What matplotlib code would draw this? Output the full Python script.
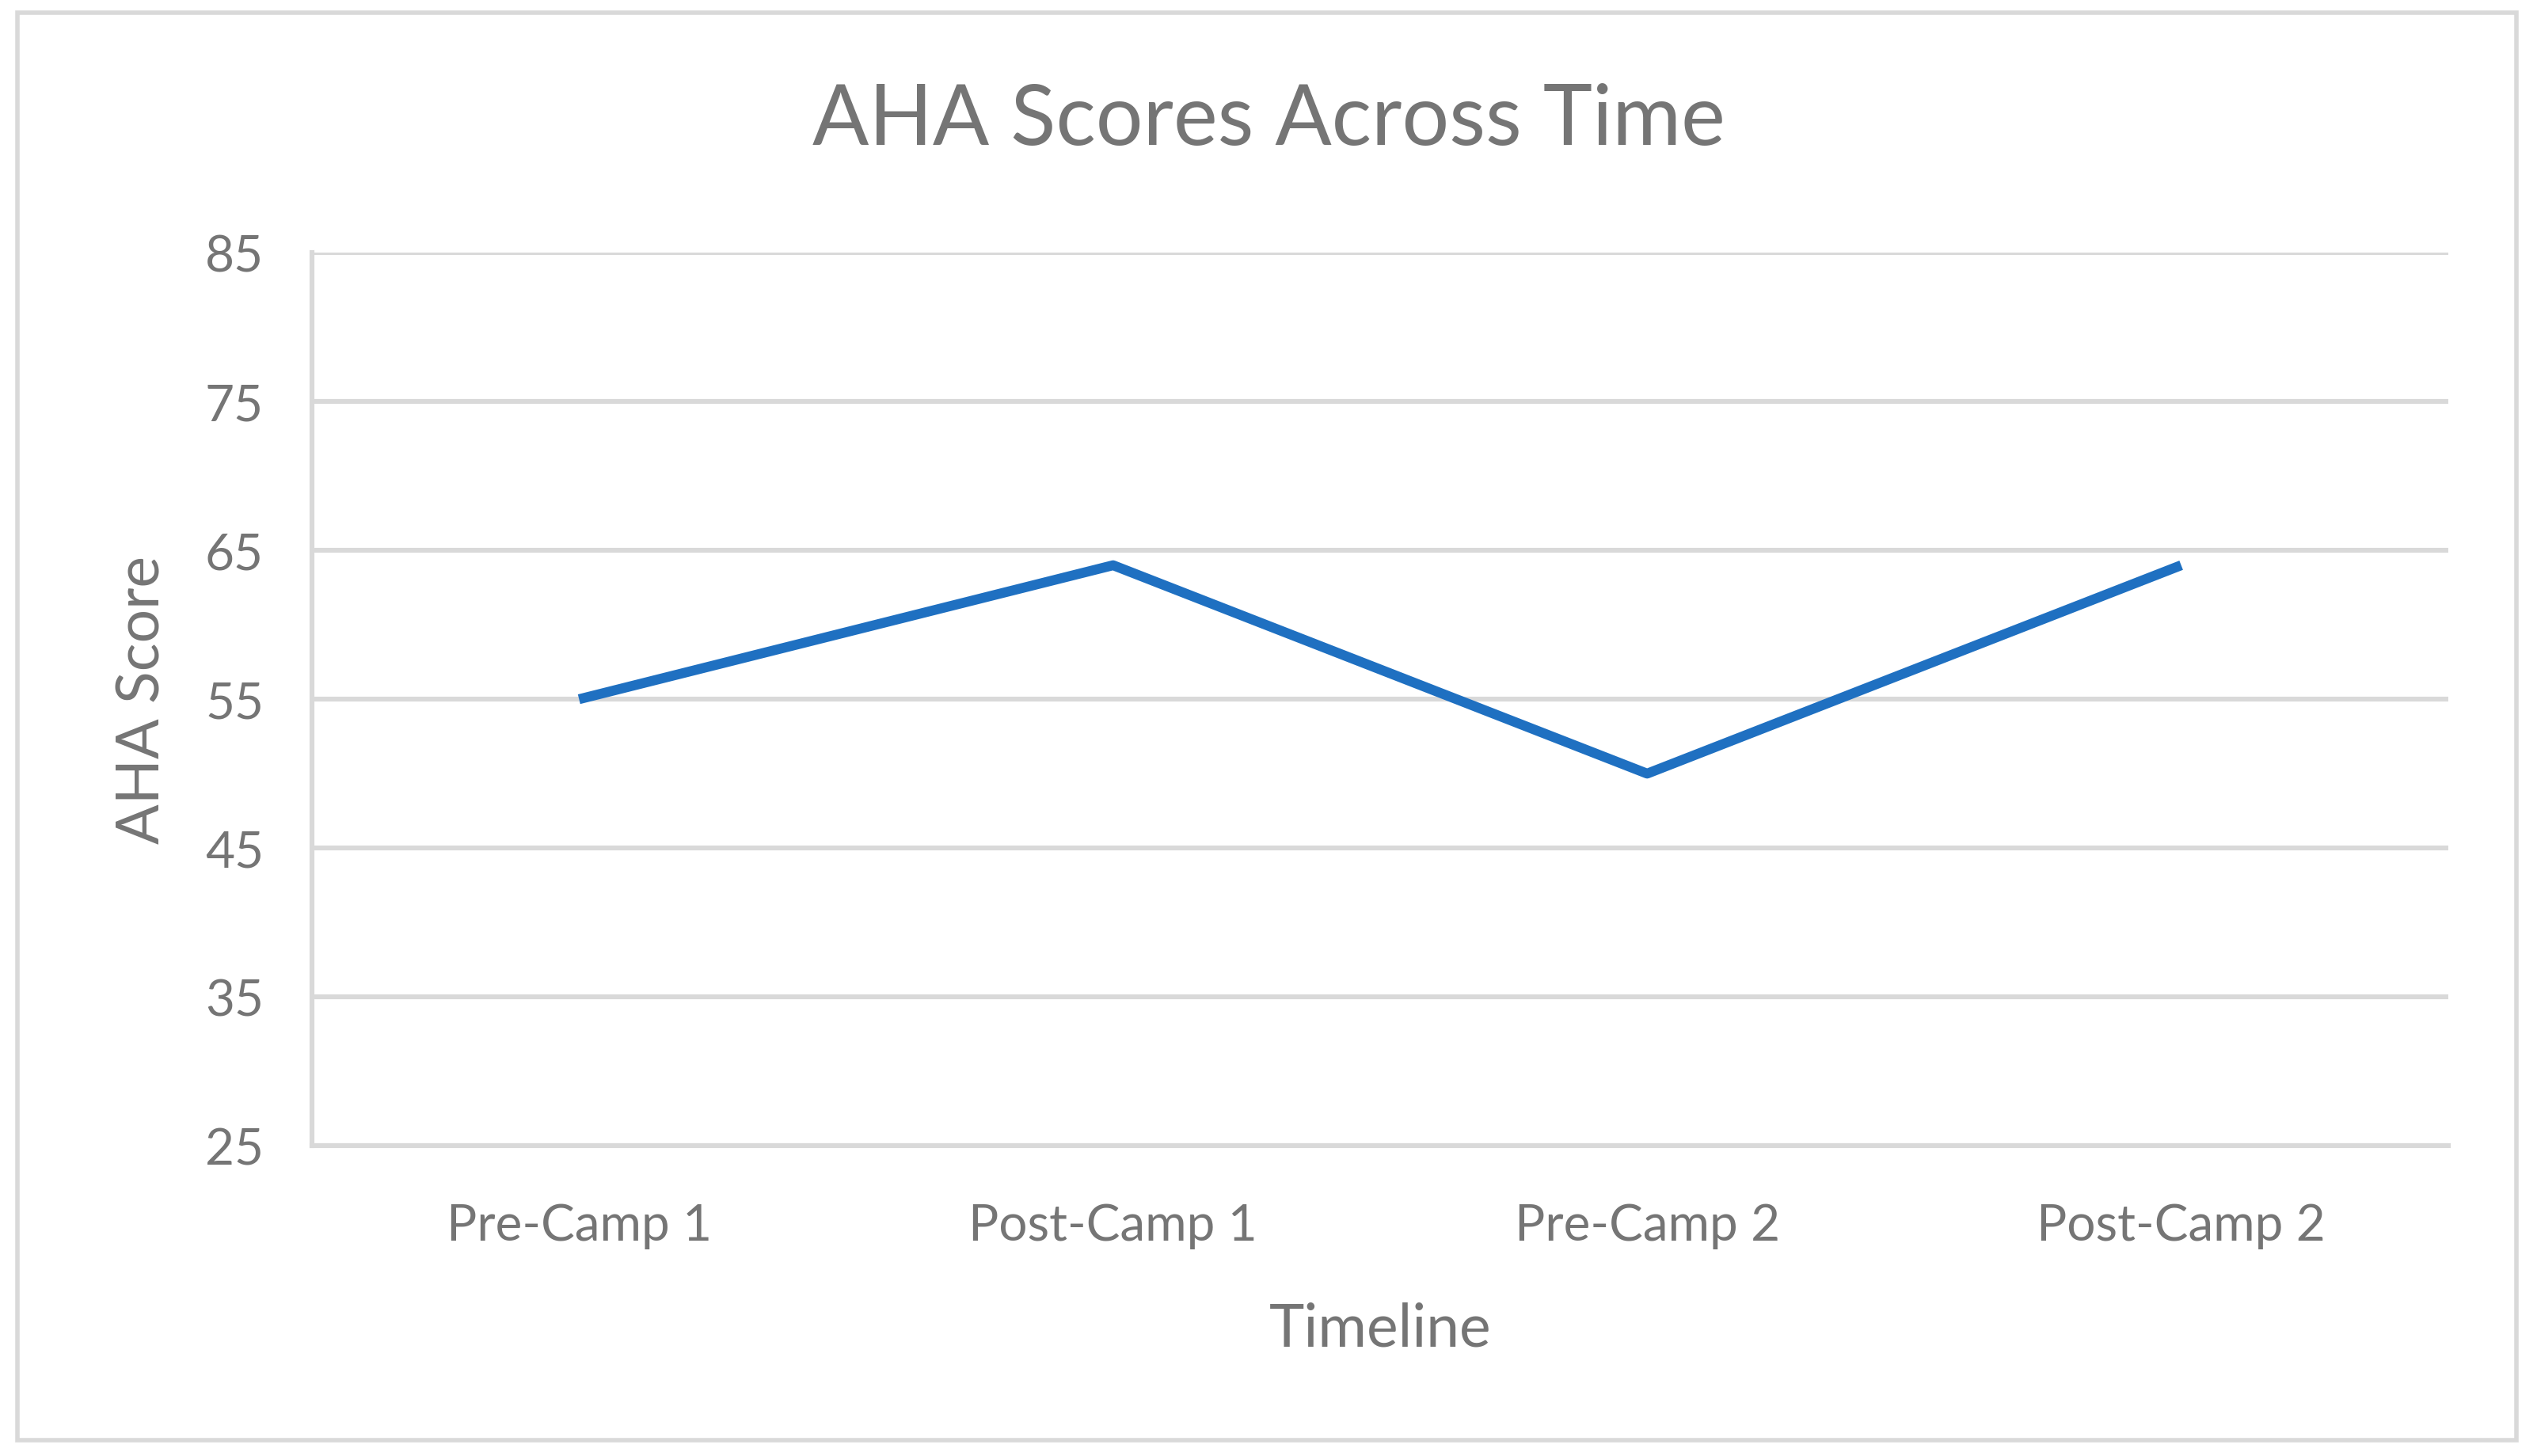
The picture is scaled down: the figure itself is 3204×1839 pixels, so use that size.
import matplotlib.pyplot as plt
from matplotlib.patches import Rectangle

categories = ["Pre-Camp 1", "Post-Camp 1", "Pre-Camp 2", "Post-Camp 2"]
scores = [55, 64, 50, 64]
y_ticks = [25, 35, 45, 55, 65, 75, 85]

plt.rcParams['font.family'] = ['Lato', 'DejaVu Sans']
text_color = "#757575"
grid_color = "#D9D9D9"

fig = plt.figure(figsize=(16.02, 9.2), dpi=200)
fig.patches.append(Rectangle((0.007, 0.011), 0.985, 0.98, transform=fig.transFigure,
                             fill=False, edgecolor=grid_color, linewidth=2))
ax = fig.add_axes([0.123, 0.213, 0.842, 0.613])

x = list(range(len(categories)))
ax.plot(x, scores, color="#1F70C1", linewidth=4.5, solid_capstyle="butt")

ax.set_xlim(-0.5, len(categories) - 0.5)
ax.set_ylim(25, 85)
ax.set_yticks(y_ticks)
ax.set_xticks(x)
ax.set_xticklabels(categories)
ax.yaxis.grid(True, color=grid_color, linewidth=2.2)
ax.set_axisbelow(True)
for s in ["top", "right"]:
    ax.spines[s].set_visible(False)
for s in ["left", "bottom"]:
    ax.spines[s].set_color(grid_color)
    ax.spines[s].set_linewidth(2.2)
ax.tick_params(axis="both", length=0, labelsize=23, labelcolor=text_color)
ax.tick_params(axis="x", pad=26)
ax.tick_params(axis="y", pad=22)

fig.text(0.5, 0.917, "AHA Scores Across Time", fontsize=38, color=text_color,
         ha="center", va="center")
ax.set_xlabel("Timeline", fontsize=27, color=text_color, labelpad=24)
ax.set_ylabel("AHA Score", fontsize=27, color=text_color, labelpad=16)

fig.savefig("out.png", dpi=200)
